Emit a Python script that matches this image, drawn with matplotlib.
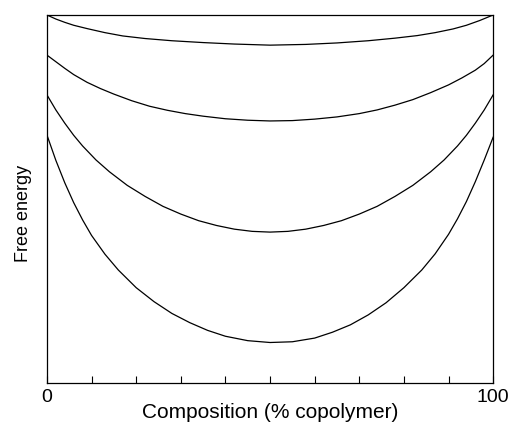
import matplotlib
matplotlib.use('Agg')
import matplotlib.pyplot as plt

plt.rcParams['font.family'] = ['Liberation Sans', 'DejaVu Sans']

# composition (% copolymer) and free energy (arbitrary units)
comp_1 = [0, 2, 4, 6, 9, 13, 17, 22, 28, 35, 42, 50, 58, 65, 72, 78, 83, 87, 91, 94, 97, 100]
energy_1 = [100, 98.9, 98.0, 97.2, 96.3, 95.2, 94.3, 93.6, 93.0, 92.5, 92.1, 91.8,
            92.0, 92.4, 93.0, 93.7, 94.4, 95.2, 96.2, 97.2, 98.5, 100]

comp_2 = [0, 2, 4, 6, 9, 12, 15, 19, 23, 27, 31, 35, 40, 45, 50, 55, 60, 65, 70, 74,
          78, 82, 86, 90, 93, 96, 98, 100]
energy_2 = [89.1, 87.3, 85.5, 83.8, 81.7, 80.0, 78.5, 76.7, 75.2, 74.1, 73.2, 72.5,
            71.8, 71.4, 71.2, 71.3, 71.7, 72.3, 73.2, 74.2, 75.5, 77.0, 78.9, 81.0,
            82.9, 85.0, 86.8, 89.1]

comp_3 = [0, 2, 4, 6, 8, 11, 14, 18, 22, 26, 30, 34, 38, 42, 46, 50, 54, 58, 62, 66,
          70, 74, 78, 82, 86, 89, 92, 94, 96, 98, 100]
energy_3 = [78.3, 74.2, 70.6, 67.3, 64.4, 60.6, 57.4, 53.7, 50.7, 48.0, 45.9, 44.1,
            42.8, 41.8, 41.2, 41.0, 41.2, 41.8, 42.8, 44.1, 45.9, 48.0, 50.7, 53.7,
            57.4, 60.6, 64.4, 67.3, 70.6, 74.2, 78.3]

comp_4 = [0, 2, 4, 6, 8, 10, 13, 16, 20, 24, 28, 32, 36, 40, 45, 50, 55, 60, 64, 68,
          72, 76, 80, 84, 87, 90, 92, 94, 96, 98, 100]
energy_4 = [67.4, 60.5, 54.4, 49.0, 44.3, 40.1, 35.0, 30.7, 25.9, 22.1, 18.9, 16.4,
            14.3, 12.7, 11.5, 11.0, 11.2, 12.2, 13.8, 15.8, 18.5, 21.8, 25.9, 30.7,
            35.1, 40.4, 44.6, 49.3, 54.7, 60.6, 66.8]

tick_pos = list(range(0, 101, 10))
tick_text = ['0'] + [''] * 9 + ['100']

fig = plt.figure(figsize=(5.10, 4.23), dpi=100)
ax = fig.add_axes([0.092, 0.0946, 0.875, 0.87])

for comp, energy in [(comp_1, energy_1), (comp_2, energy_2),
                     (comp_3, energy_3), (comp_4, energy_4)]:
    ax.plot(comp, energy, color='black', linewidth=0.9, solid_joinstyle='round')

ax.set_xlim(0, 100)
ax.set_ylim(0, 100)
ax.set_xticks(tick_pos)
ax.set_xticklabels(tick_text, fontsize=14)
ax.tick_params(axis='x', direction='in', length=5, width=0.8, pad=4)
ax.set_yticks([])

for side in ax.spines.values():
    side.set_linewidth(0.9)

ax.set_xlabel('Composition (% copolymer)', fontsize=15, labelpad=-2)
ax.set_ylabel('Free energy', fontsize=13)
ax.yaxis.set_label_coords(-0.034, 0.462)

fig.savefig('out.png', dpi=100)
